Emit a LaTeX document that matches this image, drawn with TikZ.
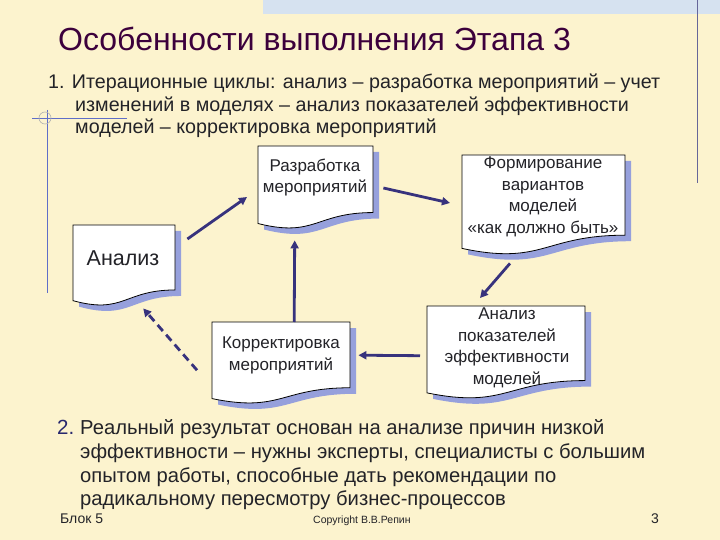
\documentclass[tikz,border=0pt]{standalone}
\usepackage{fontspec}
\setmainfont{Liberation Sans}
\usetikzlibrary{arrows.meta,calc}
\definecolor{bg}{RGB}{252,243,206}
\definecolor{band}{RGB}{214,226,240}
\definecolor{titlec}{RGB}{60,0,60}
\definecolor{txt}{RGB}{35,35,40}
\definecolor{arrc}{RGB}{55,50,125}
\definecolor{shad}{RGB}{150,160,220}
\definecolor{deco}{RGB}{95,110,200}
\definecolor{navy}{RGB}{40,40,110}
\newcommand\docpath[4]{(#1,#2) -- ({#1+#3},#2) -- ({#1+#3},{#2+0.802*#4}) .. controls ({#1+0.5*#3},{#2+0.802*#4}) and ({#1+0.5*#3},{#2+1.107*#4}) .. (#1,{#2+0.934*#4}) -- cycle}
\newcommand\docbox[5]{%
  \fill[shad] \docpath{#2+6}{#3+6}{#4}{#5};
  \filldraw[fill=white,draw=black,line width=0.8pt] \docpath{#2}{#3}{#4}{#5};
  \node[inner sep=0pt,minimum width=#4pt,minimum height=#5pt,anchor=north west] (#1) at (#2,#3) {};
}
\tikzset{
  arr/.style={draw=arrc,line width=2.8pt,-{Triangle[length=8pt,width=8pt]}},
  boxtext/.style={text=txt,align=center,inner sep=0pt},
  body/.style={text=txt,anchor=base west,inner sep=0pt}
}
\begin{document}
\begin{tikzpicture}[x=1pt,y=-1pt]
\useasboundingbox (0,0) rectangle (720,540);
\fill[bg] (0,0) rectangle (720,540);
\fill[band] (263,0) rectangle (720,14);
\draw[gray!80!blue,line width=1pt] (697,0) -- (697,183);
\draw[deco,line width=0.8pt] (32,118) -- (127,118);
\draw[deco,line width=0.8pt] (47,110) -- (47,293);
\draw[gray!60,line width=0.6pt] (45,118) circle (6);
% title
\node[anchor=base west,inner sep=0pt,text=titlec,font=\fontsize{32}{36}\selectfont] (title) at (58,51) {Особенности выполнения Этапа 3};
% item 1
\node[body,font=\fontsize{19.7}{23}\selectfont] (l1) at (48,89) {1. Итерационные циклы: анализ – разработка мероприятий – учет};
\node[body,font=\fontsize{19.7}{23}\selectfont] (l2) at (75,112) {изменений в моделях – анализ показателей эффективности};
\node[body,font=\fontsize{19.7}{23}\selectfont] (l3) at (75,134) {моделей – корректировка мероприятий};
% boxes
\docbox{raz}{258}{146}{115}{83}
\docbox{form}{462}{155}{163}{100}
\docbox{an}{73}{225}{102}{81}
\docbox{corr}{212}{322}{138}{82}
\docbox{pok}{427}{306}{158}{93}
\node[boxtext,font=\fontsize{17}{21}\selectfont] (razt) at (315,178) {Разработка\\мероприятий};
\node[boxtext,font=\fontsize{17}{21.5}\selectfont] (formt) at (543,197) {Формирование\\вариантов\\моделей\\«как должно быть»};
\node[boxtext,font=\fontsize{21.5}{25}\selectfont] (ant) at (123,258) {Анализ};
\node[boxtext,font=\fontsize{17}{22}\selectfont] (corrt) at (281,355) {Корректировка\\мероприятий};
\node[boxtext,font=\fontsize{17}{21.5}\selectfont] (pokt) at (507,348) {Анализ\\показателей\\эффективности\\моделей};
% arrows
\draw[arr] ($(an.north east)+(12,14)$) -- ($(raz.north west)+(-11,51)$);
\draw[arr] ($(raz.north east)+(10,42)$) -- ($(form.north west)+(-12,48)$);
\draw[arr] ($(form.south west)+(48,8)$) -- ($(pok.north west)+(53,-8)$);
\draw[arr] ($(pok.west)+(-7,3)$) -- ($(corr.east)+(8,-8)$);
\draw[arr] ($(corr.north)+(13,0)$) -- ($(raz.south)+(-21,11)$);
\draw[arr,dash pattern=on 8pt off 5pt] ($(corr.west)+(-15,7)$) -- ($(an.south)+(19,2)$);
% item 2
\node[anchor=base west,inner sep=0pt,text=navy,font=\fontsize{20.5}{23}\selectfont] (n2) at (57,434) {2.};
\node[body,anchor=base west,font=\fontsize{20.2}{23}\selectfont] (m1) at (80,434) {Реальный результат основан на анализе причин низкой};
\node[body,font=\fontsize{20.2}{23}\selectfont] (m2) at (80,458) {эффективности – нужны эксперты, специалисты с большим};
\node[body,font=\fontsize{20.2}{23}\selectfont] (m3) at (80,482) {опытом работы, способные дать рекомендации по};
\node[body,font=\fontsize{20.2}{23}\selectfont] (m4) at (80,505) {радикальному пересмотру бизнес-процессов};
% footer
\node[body,font=\fontsize{14}{16}\selectfont] (blok) at (60,523) {Блок 5};
\node[body,font=\fontsize{10.5}{12}\selectfont] (copy) at (313,523) {Copyright В.В.Репин};
\node[body,font=\fontsize{14}{16}\selectfont] (num) at (651,523) {3};
\end{tikzpicture}
\end{document}
